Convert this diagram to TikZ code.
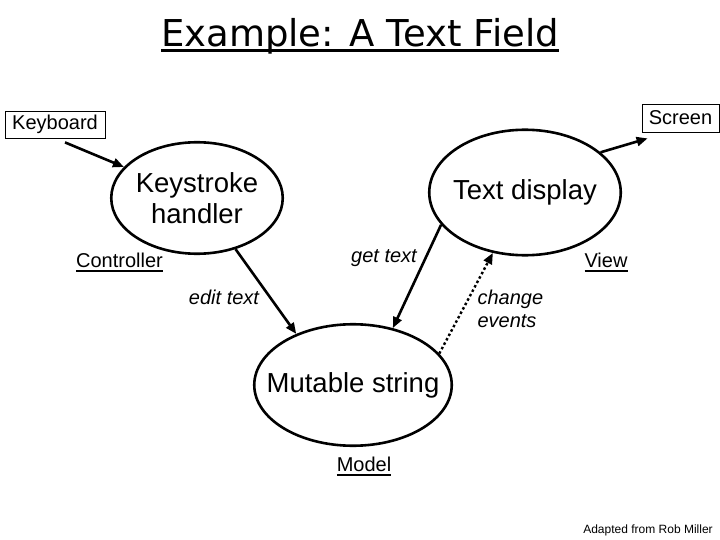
\documentclass[tikz,border=0pt]{standalone}
\usepackage{fontspec}
\setmainfont{Liberation Sans}
\newfontfamily\titlefont{DejaVu Sans}
\usetikzlibrary{shapes.geometric,arrows.meta,calc}
\newcommand{\ulword}[3]{\setbox0\hbox{#3}\rlap{\rule[-#1]{\wd0}{#2}}\box0}

\begin{document}
\begin{tikzpicture}[x=1pt, y=-1pt, font=\fontsize{20}{23}\selectfont,
  bubble/.style={ellipse, draw, line width=2.6pt, inner sep=-20pt, align=center, font=\fontsize{27.5}{31}\selectfont},
  tag/.style={draw, line width=0.8pt, inner sep=0pt},
  link/.style={line width=2.6pt, -{Triangle[length=11pt,width=9pt]}},
  note/.style={font=\fontsize{20}{23}\selectfont\itshape, align=left}]
\useasboundingbox[fill=white] (0,0) rectangle (720,540);
\node[anchor=base, font=\titlefont\fontsize{37}{40}\selectfont] (title) at (360,47) {\ulword{5.5pt}{3.5pt}{Example: A Text Field}};
\node[tag, minimum width=100pt, minimum height=27pt] (kbd) at (55,124.5) {Keyboard};
\node[tag, minimum width=77pt, minimum height=28pt] (screen) at (680.5,118) {Screen};
\node[bubble, minimum width=171.5pt, minimum height=111.5pt] (keys) at (197,198) {Keystroke\\handler};
\node[bubble, minimum width=191.5pt, minimum height=125.5pt] (disp) at (525,192.5) {Text display};
\node[bubble, minimum width=197.5pt, minimum height=121.5pt] (model) at (353,385) {Mutable string};
\node[anchor=base] (ctrl) at (119.5,267) {\ulword{5pt}{2pt}{Controller}};
\node[anchor=base] (view) at (606,267) {\ulword{5pt}{2pt}{View}};
\node[anchor=base] (mdl) at (364,471) {\ulword{5pt}{2pt}{Model}};
\node[note, anchor=base] (get) at (384,262) {get text};
\node[note, anchor=base] (edit) at (224,304) {edit text};
\node[note, anchor=west] (chg) at (474,309) {change\\events};
\node[anchor=base, font=\fontsize{12}{14}\selectfont] (credit) at (648,533) {Adapted from Rob Miller};
\draw[link] ($(kbd.south)+(10,4)$) -- (keys.157);
\draw[link] (disp.28) -- ($(screen.south west)+(6,6)$);
\draw[link] (keys.-53) -- (model.138);
\draw[link] (disp.-159) -- (model.55);
\draw[link, line width=2.4pt, dash pattern=on 2.5pt off 2.5pt] (model.20) -- (disp.-118.5);
\end{tikzpicture}
\end{document}
